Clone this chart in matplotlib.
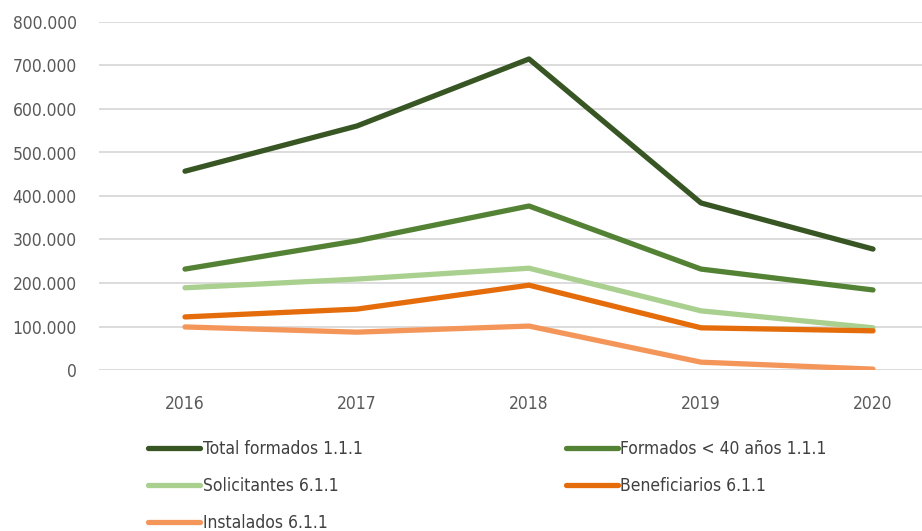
import matplotlib.pyplot as plt
from matplotlib.ticker import FuncFormatter

# Series per year
years = ['2016', '2017', '2018', '2019', '2020']
total_formados = [457000, 561000, 715000, 384000, 278000]
formados_40 = [232000, 297000, 377000, 232000, 184000]
solicitantes = [189000, 209000, 234000, 136000, 97000]
beneficiarios = [122000, 140000, 195000, 97000, 90000]
instalados = [99000, 87000, 101000, 18000, 2000]

labels = ['Total formados 1.1.1', 'Formados < 40 años 1.1.1', 'Solicitantes 6.1.1',
          'Beneficiarios 6.1.1', 'Instalados 6.1.1']
colors = ['#375623', '#548235', '#A9D08E', '#E46C0A', '#F4965A']

plt.rcParams['font.family'] = ['DejaVu Sans']
plt.rcParams['font.stretch'] = 'condensed'

fig = plt.figure(figsize=(9.22, 5.31), dpi=100)
ax = fig.add_axes([99 / 922, 1 - 370 / 531, 823 / 922, 348 / 531])

x = range(len(years))
lines = []
for data, lab, col in zip([total_formados, formados_40, solicitantes, beneficiarios, instalados],
                          labels, colors):
    ln, = ax.plot(x, data, color=col, lw=3.8, label=lab, solid_capstyle='round',
                  solid_joinstyle='round', zorder=3)
    lines.append(ln)

ax.set_ylim(0, 800000)
ax.set_xlim(-0.5, -0.5 + 823 / 172)
ax.set_yticks(range(0, 800001, 100000))
ax.yaxis.set_major_formatter(FuncFormatter(lambda v, p: f'{int(v):,}'.replace(',', '.')))
ax.set_xticks(list(x))
ax.set_xticklabels(years)
ax.grid(axis='y', color='#D9D9D9', lw=1.3)
ax.set_axisbelow(True)
for s in ax.spines.values():
    s.set_visible(False)
ax.tick_params(axis='both', length=0, labelsize=12.5, labelcolor='#595959')
ax.tick_params(axis='x', pad=18)
ax.tick_params(axis='y', pad=16)

# legend laid out row by row: two columns
order = [0, 2, 4, 1, 3]
fig.legend([lines[i] for i in order], [labels[i] for i in order], ncol=2,
           loc='upper left', bbox_to_anchor=(148 / 922, 1 - 440 / 531),
           frameon=False, fontsize=12.5, borderaxespad=0, borderpad=0,
           handlelength=3.0, handletextpad=0.15, labelspacing=1.1,
           columnspacing=11.7, labelcolor='#404040')

fig.savefig('out.png', dpi=100)
